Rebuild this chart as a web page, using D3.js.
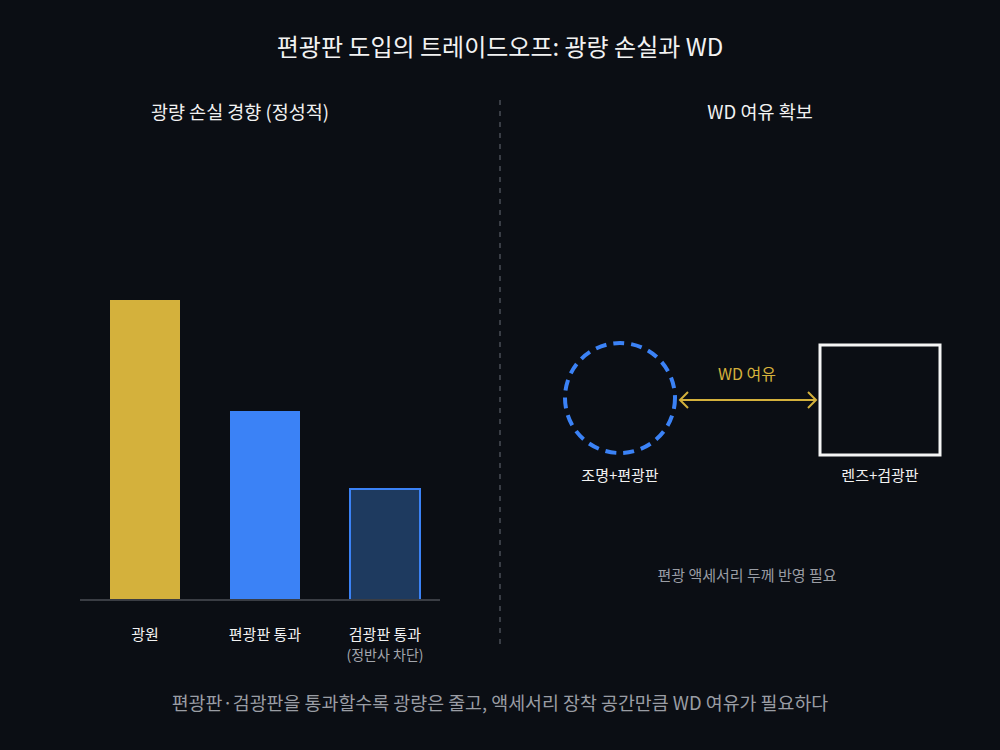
<!DOCTYPE html>
<html><head><meta charset="utf-8">
<script src="https://cdn.jsdelivr.net/npm/d3@7"></script>
<style>
html,body{margin:0;padding:0;background:#0b0e14;}
svg{display:block;font-family:"Noto Sans CJK KR","Noto Sans",sans-serif;}
</style></head>
<body>
<svg id="c" width="1000" height="750"></svg>
<script>
const categories = ["광원", "편광판 통과", "검광판 통과"];
const subLabels = ["", "", "(정반사 차단)"];
const values = [100, 63, 37];
const barFills = ["#d4b13c", "#3b82f6", "#1e3a5f"];
const barStrokes = ["none", "none", "#3b82f6"];
const diagramLabels = ["조명+편광판", "렌즈+검광판"];

const svg = d3.select("#c");
const W = 1000, H = 750;
svg.append("rect").attr("width", W).attr("height", H).attr("fill", "#0b0e14");

// Title
svg.append("text").attr("x", 500).attr("y", 56).attr("text-anchor", "middle")
  .attr("fill", "#f2f2f2").attr("font-size", 24).text("편광판 도입의 트레이드오프: 광량 손실과 WD");

// Subtitles
svg.append("text").attr("x", 240).attr("y", 119).attr("text-anchor", "middle")
  .attr("fill", "#f2f2f2").attr("font-size", 18.5).text("광량 손실 경향 (정성적)");
svg.append("text").attr("x", 760).attr("y", 119).attr("text-anchor", "middle")
  .attr("fill", "#f2f2f2").attr("font-size", 18.5).text("WD 여유 확보");

// Divider
svg.append("line").attr("x1", 500).attr("x2", 500).attr("y1", 100).attr("y2", 646)
  .attr("stroke", "#4a4d55").attr("stroke-width", 1.5).attr("stroke-dasharray", "5,6");

// Bar chart
const x = d3.scaleBand().domain(categories).range([80, 450]).paddingInner(5/12).paddingOuter(0.25);
const y = d3.scaleLinear().domain([0, 100]).range([600, 300]);

const g = svg.append("g");
g.selectAll("rect.bar").data(categories).join("rect").attr("class", "bar")
  .attr("x", (d) => x(d)).attr("width", x.bandwidth())
  .attr("y", (d, i) => y(values[i])).attr("height", (d, i) => y(0) - y(values[i]))
  .attr("fill", (d, i) => barFills[i])
  .attr("stroke", (d, i) => barStrokes[i]).attr("stroke-width", 2);

g.append("line").attr("x1", 80).attr("x2", 440).attr("y1", y(0)).attr("y2", y(0))
  .attr("stroke", "#3a3d44").attr("stroke-width", 2);

g.selectAll("text.cat").data(categories).join("text").attr("class", "cat")
  .attr("x", (d) => x(d) + x.bandwidth() / 2).attr("y", 640)
  .attr("text-anchor", "middle").attr("fill", "#f2f2f2").attr("font-size", 15).text((d) => d);
g.selectAll("text.sub").data(subLabels).join("text").attr("class", "sub")
  .attr("x", (d, i) => x(categories[i]) + x.bandwidth() / 2).attr("y", 660)
  .attr("text-anchor", "middle").attr("fill", "#a3a6ad").attr("font-size", 14).text((d) => d);

// Right diagram
const cx = 620, cy = 398, r = 55;
svg.append("circle").attr("cx", cx).attr("cy", cy).attr("r", r)
  .attr("fill", "none").attr("stroke", "#3b82f6").attr("stroke-width", 4)
  .attr("stroke-dasharray", "11,7");
svg.append("rect").attr("x", 820).attr("y", 345).attr("width", 120).attr("height", 110)
  .attr("fill", "#0b0e14").attr("stroke", "#f5f5f5").attr("stroke-width", 3);

const gold = "#d4b13c";
svg.append("line").attr("x1", 680).attr("x2", 816).attr("y1", 400).attr("y2", 400)
  .attr("stroke", gold).attr("stroke-width", 2);
svg.append("path").attr("d", "M688,392 L680,400 L688,408").attr("fill", "none")
  .attr("stroke", gold).attr("stroke-width", 2);
svg.append("path").attr("d", "M808,392 L816,400 L808,408").attr("fill", "none")
  .attr("stroke", gold).attr("stroke-width", 2);
svg.append("text").attr("x", 747).attr("y", 380).attr("text-anchor", "middle")
  .attr("fill", gold).attr("font-size", 16).text("WD 여유");

svg.append("text").attr("x", cx).attr("y", 481).attr("text-anchor", "middle")
  .attr("fill", "#f2f2f2").attr("font-size", 15).text(diagramLabels[0]);
svg.append("text").attr("x", 880).attr("y", 481).attr("text-anchor", "middle")
  .attr("fill", "#f2f2f2").attr("font-size", 15).text(diagramLabels[1]);

svg.append("text").attr("x", 747).attr("y", 581).attr("text-anchor", "middle")
  .attr("fill", "#9a9da4").attr("font-size", 15).text("편광 액세서리 두께 반영 필요");

// Footer
svg.append("text").attr("x", 500).attr("y", 710).attr("text-anchor", "middle")
  .attr("fill", "#9a9da4").attr("font-size", 18.4)
  .text("편광판·검광판을 통과할수록 광량은 줄고, 액세서리 장착 공간만큼 WD 여유가 필요하다");
</script>
</body></html>
